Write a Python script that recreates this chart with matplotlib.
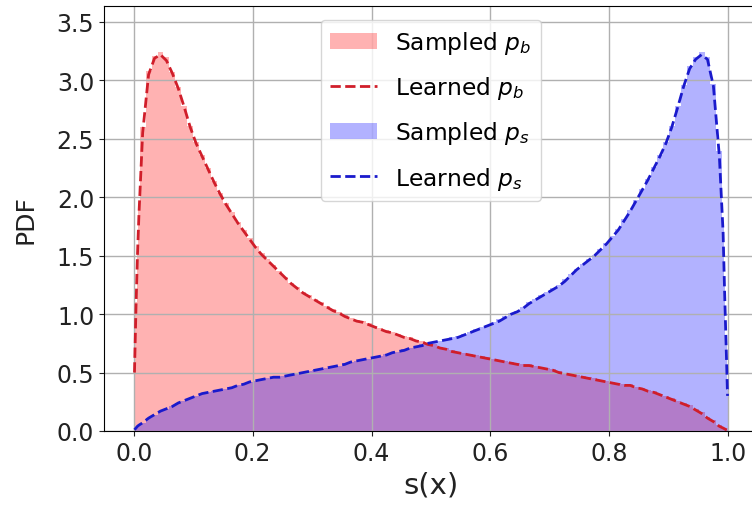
import matplotlib
matplotlib.use('Agg')
import matplotlib.pyplot as plt
import numpy as np

# bin edges: fine bins next to 0 and 1, 0.01 wide in between
edges = np.concatenate([np.linspace(0.0, 0.01, 5),
                        np.linspace(0.02, 0.99, 98),
                        np.linspace(0.9925, 1.0, 4)])
centers = (edges[:-1] + edges[1:]) / 2

# learned background density p_b (values read at bin centres)
pb_learned = [0.50, 1.05, 1.50, 1.85,
              2.55, 3.05, 3.19, 3.22, 3.17, 3.06, 2.93, 2.77, 2.60, 2.46,
              2.35, 2.24, 2.13, 2.03, 1.94, 1.86, 1.78, 1.71, 1.64, 1.57,
              1.51, 1.46, 1.41, 1.36, 1.31, 1.26, 1.22, 1.18, 1.15, 1.12,
              1.09, 1.06, 1.03, 1.01, 0.98, 0.96, 0.94, 0.93, 0.91, 0.89,
              0.87, 0.85, 0.84, 0.82, 0.80, 0.79, 0.77, 0.76, 0.74, 0.73,
              0.71, 0.70, 0.68, 0.67, 0.66, 0.65, 0.64, 0.63, 0.62, 0.61,
              0.60, 0.59, 0.58, 0.57, 0.56, 0.56, 0.55, 0.54, 0.53, 0.52,
              0.50, 0.49, 0.48, 0.47, 0.46, 0.45, 0.44, 0.43, 0.42, 0.41,
              0.40, 0.39, 0.39, 0.37, 0.36, 0.34, 0.33, 0.31, 0.29, 0.27,
              0.25, 0.23, 0.21, 0.18, 0.15, 0.11, 0.08, 0.04,
              0.025, 0.018, 0.012, 0.005]

# sampled background histogram p_b
pb_sampled = [0.45, 1.10, 1.55, 1.90,
              2.60, 3.08, 3.21, 3.24, 3.20, 3.07, 2.94, 2.78, 2.61, 2.47,
              2.36, 2.25, 2.14, 2.04, 1.95, 1.87, 1.79, 1.72, 1.65, 1.58,
              1.52, 1.47, 1.42, 1.37, 1.32, 1.27, 1.23, 1.19, 1.16, 1.13,
              1.10, 1.07, 1.04, 1.02, 0.99, 0.97, 0.95, 0.94, 0.92, 0.90,
              0.88, 0.86, 0.85, 0.83, 0.81, 0.80, 0.78, 0.77, 0.75, 0.74,
              0.72, 0.71, 0.69, 0.68, 0.67, 0.66, 0.65, 0.64, 0.63, 0.62,
              0.61, 0.60, 0.59, 0.58, 0.57, 0.57, 0.56, 0.55, 0.54, 0.53,
              0.51, 0.50, 0.49, 0.48, 0.47, 0.46, 0.45, 0.44, 0.43, 0.42,
              0.41, 0.40, 0.40, 0.38, 0.37, 0.35, 0.34, 0.32, 0.30, 0.28,
              0.26, 0.24, 0.22, 0.19, 0.16, 0.12, 0.09, 0.05,
              0.03, 0.02, 0.013, 0.006]

# learned signal density p_s
ps_learned = [0.01, 0.025, 0.04, 0.05,
              0.07, 0.11, 0.14, 0.17, 0.19, 0.21, 0.24, 0.26, 0.28, 0.30,
              0.32, 0.33, 0.34, 0.35, 0.36, 0.37, 0.39, 0.40, 0.42, 0.43,
              0.44, 0.45, 0.46, 0.46, 0.47, 0.48, 0.49, 0.50, 0.51, 0.52,
              0.53, 0.54, 0.55, 0.56, 0.57, 0.59, 0.60, 0.61, 0.62, 0.63,
              0.64, 0.65, 0.67, 0.68, 0.69, 0.71, 0.72, 0.73, 0.75, 0.76,
              0.77, 0.78, 0.79, 0.80, 0.82, 0.84, 0.86, 0.88, 0.90, 0.92,
              0.94, 0.97, 1.00, 1.02, 1.05, 1.09, 1.12, 1.15, 1.18, 1.21,
              1.24, 1.28, 1.33, 1.38, 1.42, 1.46, 1.50, 1.55, 1.60, 1.66,
              1.72, 1.80, 1.88, 1.97, 2.06, 2.15, 2.25, 2.35, 2.46, 2.60,
              2.77, 2.95, 3.10, 3.18, 3.22, 3.18, 2.95, 2.35,
              1.70, 1.20, 0.75, 0.30]

# sampled signal histogram p_s
ps_sampled = [0.01, 0.025, 0.04, 0.05,
              0.07, 0.11, 0.14, 0.17, 0.19, 0.21, 0.24, 0.26, 0.28, 0.30,
              0.32, 0.33, 0.34, 0.35, 0.36, 0.37, 0.39, 0.40, 0.42, 0.43,
              0.44, 0.45, 0.46, 0.47, 0.47, 0.48, 0.49, 0.50, 0.51, 0.52,
              0.53, 0.54, 0.55, 0.56, 0.58, 0.59, 0.60, 0.61, 0.62, 0.63,
              0.64, 0.66, 0.67, 0.68, 0.70, 0.71, 0.72, 0.74, 0.75, 0.76,
              0.77, 0.78, 0.80, 0.81, 0.83, 0.85, 0.87, 0.89, 0.91, 0.93,
              0.96, 0.98, 1.01, 1.03, 1.06, 1.10, 1.13, 1.16, 1.19, 1.22,
              1.25, 1.30, 1.34, 1.39, 1.43, 1.47, 1.51, 1.56, 1.61, 1.67,
              1.73, 1.81, 1.89, 1.98, 2.07, 2.16, 2.26, 2.36, 2.47, 2.61,
              2.78, 2.96, 3.12, 3.20, 3.24, 3.20, 2.97, 2.40,
              1.75, 1.25, 0.80, 0.35]

fig = plt.figure(figsize=(7.52, 5.10), dpi=100)
fig.patch.set_facecolor('white')
ax = fig.add_axes([0.1383, 0.153, 0.8697, 0.834])

ax.hist(centers, bins=edges, weights=pb_sampled, histtype='stepfilled',
        color='red', alpha=0.3, label='Sampled $p_b$')
ax.plot(centers, pb_learned, '--', color='#d01e2a', lw=2, label='Learned $p_b$')
ax.hist(centers, bins=edges, weights=ps_sampled, histtype='stepfilled',
        color='blue', alpha=0.3, label='Sampled $p_s$')
ax.plot(centers, ps_learned, '--', color='#1a1acc', lw=2, label='Learned $p_s$')

ax.set_xlim(-0.05, 1.05)
ax.set_ylim(0, 3.64)
ax.set_xticks([0.0, 0.2, 0.4, 0.6, 0.8, 1.0])
ax.set_yticks([0.0, 0.5, 1.0, 1.5, 2.0, 2.5, 3.0, 3.5])
ax.tick_params(labelsize=17, colors='#222222')
ax.set_xlabel('s(x)', fontsize=21, color='#222222')
ax.set_ylabel('PDF', fontsize=18, color='#222222', labelpad=14)
ax.grid(True, color='#b0b0b0', lw=1)
ax.legend(loc='upper center', fontsize=16.8, labelspacing=0.78,
          borderaxespad=0.6)

plt.savefig('out.png', dpi=100, facecolor='white')
plt.close()
